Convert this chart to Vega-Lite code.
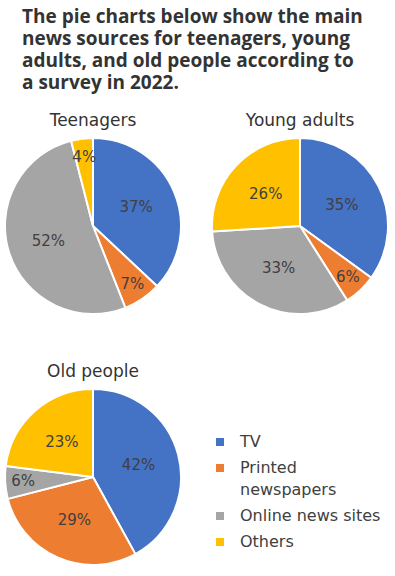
{
  "$schema": "https://vega.github.io/schema/vega-lite/v6.json",
  "background": "white",
  "padding": {"left": 1, "top": 8, "right": 0, "bottom": 0},
  "title": {
    "text": ["The pie charts below show the main", "news sources for teenagers, young", "adults, and old people according to", "a survey in 2022."],
    "anchor": "start", "fontSize": 19, "font": "Open Sans", "fontWeight": "bold", "color": "#333333",
    "lineHeight": 22, "offset": 19, "dx": 21
  },
  "data": {"values": [
    {"group": "Teenagers", "source": "TV", "order": 1, "share": 0.37},
    {"group": "Teenagers", "source": "Printed newspapers", "order": 2, "share": 0.07},
    {"group": "Teenagers", "source": "Online news sites", "order": 3, "share": 0.52},
    {"group": "Teenagers", "source": "Others", "order": 4, "share": 0.04},
    {"group": "Young adults", "source": "TV", "order": 1, "share": 0.35},
    {"group": "Young adults", "source": "Printed newspapers", "order": 2, "share": 0.06},
    {"group": "Young adults", "source": "Online news sites", "order": 3, "share": 0.33},
    {"group": "Young adults", "source": "Others", "order": 4, "share": 0.26},
    {"group": "Old people", "source": "TV", "order": 1, "share": 0.42},
    {"group": "Old people", "source": "Printed newspapers", "order": 2, "share": 0.29},
    {"group": "Old people", "source": "Online news sites", "order": 3, "share": 0.06},
    {"group": "Old people", "source": "Others", "order": 4, "share": 0.23}
  ]},
  "facet": {
    "field": "group", "type": "nominal",
    "sort": ["Teenagers", "Young adults", "Old people"],
    "header": {"title": null, "labelFontSize": 17, "labelFont": "DejaVu Sans", "labelColor": "#333333", "labelPadding": 4}
  },
  "columns": 2,
  "spacing": {"column": 23, "row": 45},
  "spec": {
    "width": 176,
    "height": 176,
    "layer": [
      {
        "mark": {"type": "arc", "stroke": "white", "strokeWidth": 2},
        "encoding": {
          "theta": {"field": "share", "type": "quantitative", "stack": true},
          "order": {"field": "order", "type": "quantitative"},
          "color": {
            "field": "source", "type": "nominal",
            "scale": {"domain": ["TV", "Printed newspapers", "Online news sites", "Others"], "range": ["#4472C4", "#ED7D31", "#A5A5A5", "#FFC000"]},
            "legend": {
              "title": null, "orient": "none", "legendX": 207, "legendY": 296,
              "symbolType": "square", "symbolSize": 64, "symbolStrokeWidth": 0,
              "labelFontSize": 16, "labelFont": "DejaVu Sans", "labelColor": "#404040",
              "rowPadding": 10, "labelOffset": 12,
              "labelExpr": "datum.label == 'Printed newspapers' ? ['Printed', 'newspapers'] : datum.label",
              "encode": {"labels": {"update": {"lineHeight": {"value": 22}}}}
            }
          }
        }
      },
      {
        "mark": {"type": "text", "radius": {"expr": "datum.share < 0.1 ? 70 : 47"}, "fontSize": 15, "font": "DejaVu Sans", "color": "#404040"},
        "encoding": {
          "theta": {"field": "share", "type": "quantitative", "stack": true},
          "order": {"field": "order", "type": "quantitative"},
          "text": {"field": "share", "type": "quantitative", "format": ".0%"}
        }
      }
    ]
  },
  "config": {"view": {"stroke": null}, "style": {"guide-label": {"lineHeight": 22}}}
}
